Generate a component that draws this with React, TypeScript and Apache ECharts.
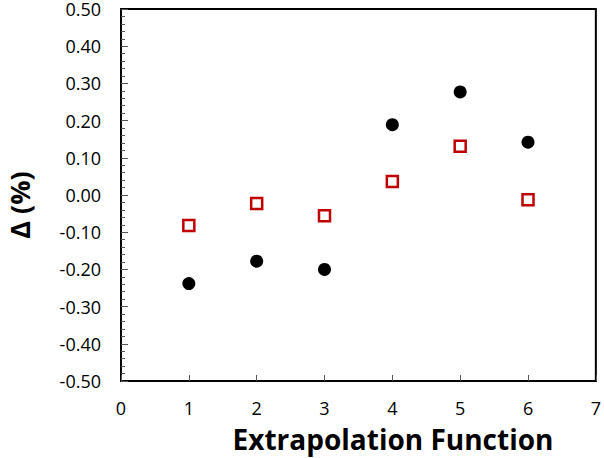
import React, { useEffect, useRef } from "react";
import * as echarts from "echarts";

const xValues = [1, 2, 3, 4, 5, 6];
const circleValues = [-0.238, -0.178, -0.2, 0.189, 0.277, 0.142];
const squareValues = [-0.082, -0.023, -0.056, 0.036, 0.131, -0.013];
const xTitle = "Extrapolation Function";
const yTitle = "Δ (%)";

const font = "'Open Sans', 'Noto Sans', sans-serif";

export default function App() {
  const ref = useRef<HTMLDivElement>(null);
  useEffect(() => {
    if (!ref.current) return;
    const chart = echarts.init(ref.current, undefined, { renderer: "svg" });
    chart.setOption({
      animation: false,
      backgroundColor: "#ffffff",
      grid: {
        left: 121,
        top: 9,
        right: 6,
        bottom: 77,
        show: true,
        borderColor: "#000",
        borderWidth: 2,
      },
      graphic: [
        {
          type: "text",
          x: 393,
          y: 439,
          style: {
            text: xTitle,
            fontFamily: font,
            fontWeight: "bold",
            fontSize: 28,
            lineHeight: 30,
            fill: "#000",
            align: "center",
            verticalAlign: "middle",
          },
        },
        {
          type: "text",
          x: 19,
          y: 205,
          rotation: Math.PI / 2,
          style: {
            text: yTitle,
            fontFamily: font,
            fontWeight: "bold",
            fontSize: 27,
            lineHeight: 28,
            fill: "#000",
            align: "center",
            verticalAlign: "middle",
          },
        },
      ],
      xAxis: {
        type: "value",
        min: 0,
        max: 7,
        interval: 1,
        axisLine: { show: true, onZero: false, lineStyle: { color: "#000", width: 2 } },
        axisTick: { show: true, inside: true, length: 6, lineStyle: { color: "#555" } },
        axisLabel: { fontFamily: font, fontSize: 18, color: "#000", margin: 19, lineHeight: 16 },
        splitLine: { show: false },
      },
      yAxis: {
        type: "value",
        min: -0.5,
        max: 0.5,
        interval: 0.1,
        axisLine: { show: true, onZero: false, lineStyle: { color: "#000", width: 2 } },
        axisTick: { show: true, inside: true, length: 7, lineStyle: { color: "#555" } },
        minorTick: { show: true, splitNumber: 5, length: 4, lineStyle: { color: "#555" } },
        axisLabel: {
          fontFamily: font,
          fontSize: 18,
          color: "#000",
          margin: 20,
          lineHeight: 13,
          formatter: (v: number) => v.toFixed(2),
        },
        splitLine: { show: false },
      },
      series: [
        {
          type: "scatter",
          name: "circles",
          symbol: "circle",
          symbolSize: 13,
          itemStyle: { color: "#000", opacity: 1 },
          data: xValues.map((x, i) => [x, circleValues[i]]),
        },
        {
          type: "scatter",
          name: "squares",
          symbol: "rect",
          symbolSize: 11,
          itemStyle: { color: "#fff", borderColor: "#c00000", borderWidth: 2.5, opacity: 1 },
          data: xValues.map((x, i) => [x, squareValues[i]]),
        },
      ],
    });
    return () => chart.dispose();
  }, []);
  return <div ref={ref} style={{ width: 604, height: 458, position: "absolute", left: 0, top: 0 }} />;
}
